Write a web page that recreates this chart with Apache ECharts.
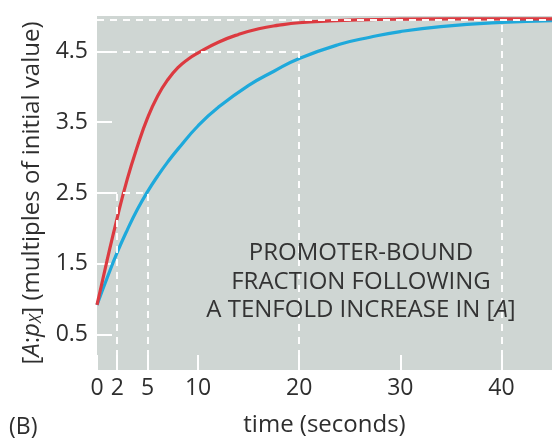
<!DOCTYPE html>
<html>
<head>
<meta charset="utf-8">
<script src="https://cdn.jsdelivr.net/npm/echarts@6/dist/echarts.min.js"></script>
<style>
  html, body { margin: 0; padding: 0; background: #ffffff; }
  #chart { width: 552px; height: 442px; }
</style>
</head>
<body>
<div id="chart"></div>
<script>
// ---- data ----
var redTime   = [0, 1, 2, 3, 4, 5, 6, 7, 8, 9, 10, 12, 14, 16, 18, 20, 23, 26, 30, 35, 40, 45];
var redValue  = [0.92, 1.55, 2.15, 2.7, 3.16, 3.56, 3.87, 4.1, 4.27, 4.39, 4.48, 4.63, 4.74, 4.82, 4.87, 4.905, 4.93, 4.945, 4.955, 4.96, 4.96, 4.96];
var blueTime  = [0, 1, 2, 3, 4, 5, 6, 7, 8, 10, 12, 15, 17.5, 20, 24, 27, 30, 34, 40, 45];
var blueValue = [0.92, 1.3, 1.66, 1.98, 2.27, 2.52, 2.74, 2.94, 3.12, 3.45, 3.71, 4.02, 4.22, 4.4, 4.6, 4.7, 4.78, 4.85, 4.91, 4.935];
var xTickLabels = [0, 2, 5, 10, 20, 30, 40];
var yTickLabels = [0.5, 1.5, 2.5, 3.5, 4.5];
// dashed guide lines: [x1, y1, x2, y2] in data units
var guideLines = [
  [0, 4.94, 45, 4.94],
  [0, 4.5, 20, 4.5],
  [0, 2.5, 5, 2.5],
  [2, 0, 2, 2.5],
  [5, 0, 5, 2.5],
  [20, 0, 20, 4.5],
  [40, 0, 40, 4.94]
];

function pairs(xs, ys) { return xs.map(function (x, i) { return [x, ys[i]]; }); }

var chart = echarts.init(document.getElementById('chart'), null, { renderer: 'canvas' });
var FONT = 'Open Sans';
var TXT = '#2e2e2e';

chart.setOption({
  animation: false,
  grid: {
    left: 97, top: 16, right: 0, bottom: 70,
    show: true, backgroundColor: '#cfd6d3', borderWidth: 0
  },
  xAxis: {
    type: 'value', min: 0, max: 45,
    axisLine: { show: false },
    splitLine: { show: false },
    axisTick: { show: true, inside: true, length: 15, customValues: xTickLabels,
                lineStyle: { color: '#ffffff', width: 2 } },
    axisLabel: { customValues: xTickLabels, margin: 7, color: TXT,
                 fontFamily: FONT, fontSize: 23 },
    name: 'time (seconds)', nameLocation: 'middle', nameGap: 43,
    nameTextStyle: { color: TXT, fontFamily: FONT, fontSize: 24 }
  },
  yAxis: {
    type: 'value', min: 0, max: 5,
    axisLine: { show: false },
    splitLine: { show: false },
    axisTick: { show: true, inside: true, length: 15, customValues: yTickLabels,
                lineStyle: { color: '#ffffff', width: 2 } },
    axisLabel: { customValues: yTickLabels, margin: 9, color: TXT,
                 fontFamily: FONT, fontSize: 23,
                 formatter: function (v) { return v.toFixed(1); } },
    name: '[{i|A}:{i|p}{sub|X}] (multiples of initial value)',
    nameLocation: 'middle', nameGap: 51,
    nameTextStyle: {
      color: TXT, fontFamily: FONT, fontSize: 24,
      rich: {
        i: { fontStyle: 'italic', fontFamily: FONT, fontSize: 24, color: TXT },
        sub: { fontStyle: 'italic', fontFamily: FONT, fontSize: 16, color: TXT,
               verticalAlign: 'bottom', padding: [9, 0, 0, 0] }
      }
    }
  },
  series: [
    {
      type: 'line', data: [], z: 1, silent: true,
      markLine: {
        silent: true, symbol: 'none', animation: false,
        label: { show: false },
        lineStyle: { color: '#ffffff', type: [7, 6], width: 2, opacity: 0.95 },
        data: guideLines.map(function (g) {
          return [{ coord: [g[0], g[1]] }, { coord: [g[2], g[3]] }];
        })
      }
    },
    {
      type: 'line', data: pairs(blueTime, blueValue), smooth: 0.5,
      showSymbol: false, z: 3,
      lineStyle: { color: '#1ea9db', width: 3.2 }
    },
    {
      type: 'line', data: pairs(redTime, redValue), smooth: 0.5,
      showSymbol: false, z: 4,
      lineStyle: { color: '#dc3a40', width: 3.2 }
    }
  ],
  graphic: [
    {
      type: 'text', z: 10,
      x: 361, y: 239,
      style: {
        text: 'PROMOTER-BOUND\nFRACTION FOLLOWING\nA TENFOLD INCREASE IN [{i|A}]',
        align: 'center', verticalAlign: 'top',
        fill: '#333333', fontFamily: FONT, fontSize: 24, lineHeight: 28.5,
        rich: {
          i: { fontStyle: 'italic', fontFamily: FONT, fontSize: 24, fill: '#333333', lineHeight: 28.5 }
        }
      }
    },
    {
      type: 'text', x: 9, y: 416,
      style: { text: '(B)', fill: TXT, fontFamily: FONT, fontSize: 23 }
    }
  ]
});
</script>
</body>
</html>
